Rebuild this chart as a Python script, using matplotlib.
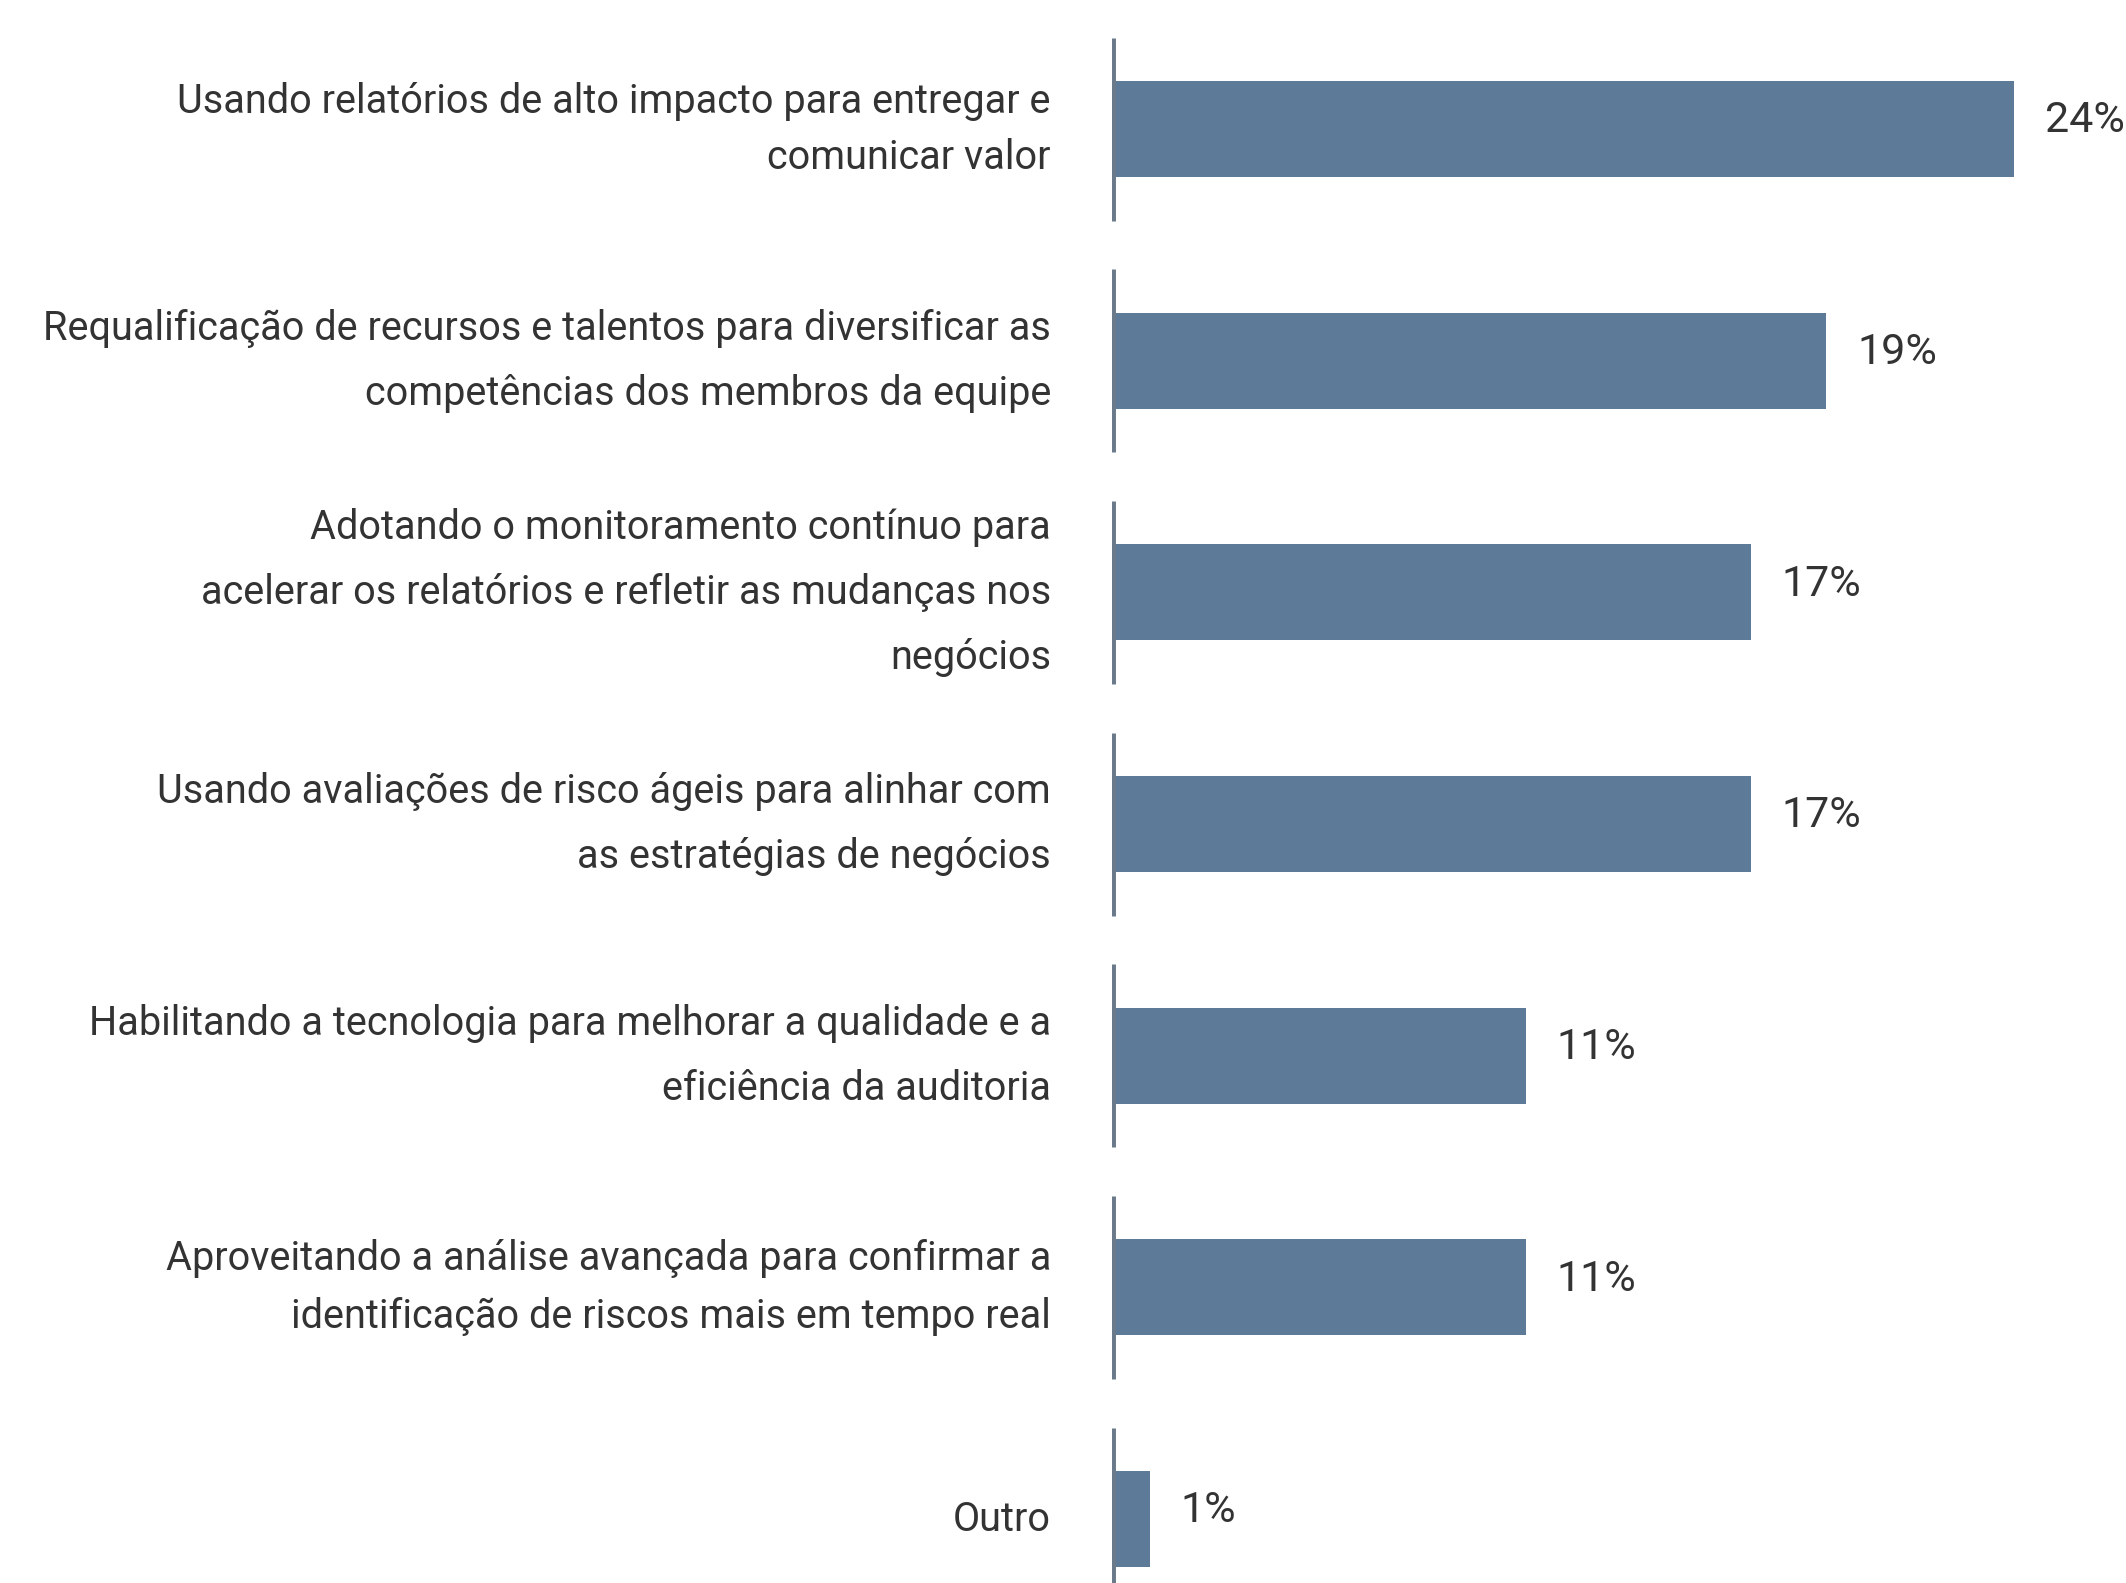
import matplotlib
matplotlib.use("Agg")
import matplotlib.pyplot as plt
import numpy as np

categories = [
    "Usando relatórios de alto impacto para entregar e\ncomunicar valor",
    "Requalificação de recursos e talentos para diversificar as\ncompetências dos membros da equipe",
    "Adotando o monitoramento contínuo para\nacelerar os relatórios e refletir as mudanças nos\nnegócios",
    "Usando avaliações de risco ágeis para alinhar com\nas estratégias de negócios",
    "Habilitando a tecnologia para melhorar a qualidade e a\neficiência da auditoria",
    "Aproveitando a análise avançada para confirmar a\nidentificação de riscos mais em tempo real",
    "Outro",
]
values = [24, 19, 17, 17, 11, 11, 1]
value_labels = ["24%", "19%", "17%", "17%", "11%", "11%", "1%"]

BAR_COLOR = "#5d7b99"
AXIS_COLOR = "#6b7a8a"
TEXT_COLOR = "#333333"
FONT = ["Roboto", "DejaVu Sans"]
line_spacings = [1.55, 1.85, 1.85, 1.85, 1.85, 1.6, 1.85]

fig = plt.figure(figsize=(21.26, 15.83), dpi=100)
x0 = 1112 / 2126
ax = fig.add_axes([x0, 0, 1 - x0, 1])
ax.set_axis_off()

y = np.arange(len(categories))
ax.barh(y, values, height=0.415, color=BAR_COLOR, zorder=2)
ax.vlines(np.zeros(len(y)), y - 0.395, y + 0.395, color=AXIS_COLOR, linewidth=5, zorder=3)

ax.set_xlim(0, (2126 - 1112) / 37.6)
ax.set_ylim(6.276, -0.557)

for yi, v, lab, cat, ls in zip(y, values, value_labels, categories, line_spacings):
    ax.annotate(lab, xy=(v, yi), xytext=(22, 6), textcoords="offset points",
                ha="left", va="center", fontsize=31, color=TEXT_COLOR, family=FONT)
    ax.annotate(cat, xy=(0, yi), xytext=(-44, 0), textcoords="offset points",
                ha="right", va="center", fontsize=28.5, color=TEXT_COLOR, family=FONT,
                linespacing=ls, multialignment="right", annotation_clip=False)

fig.savefig("out.png", dpi=100, facecolor="white")
